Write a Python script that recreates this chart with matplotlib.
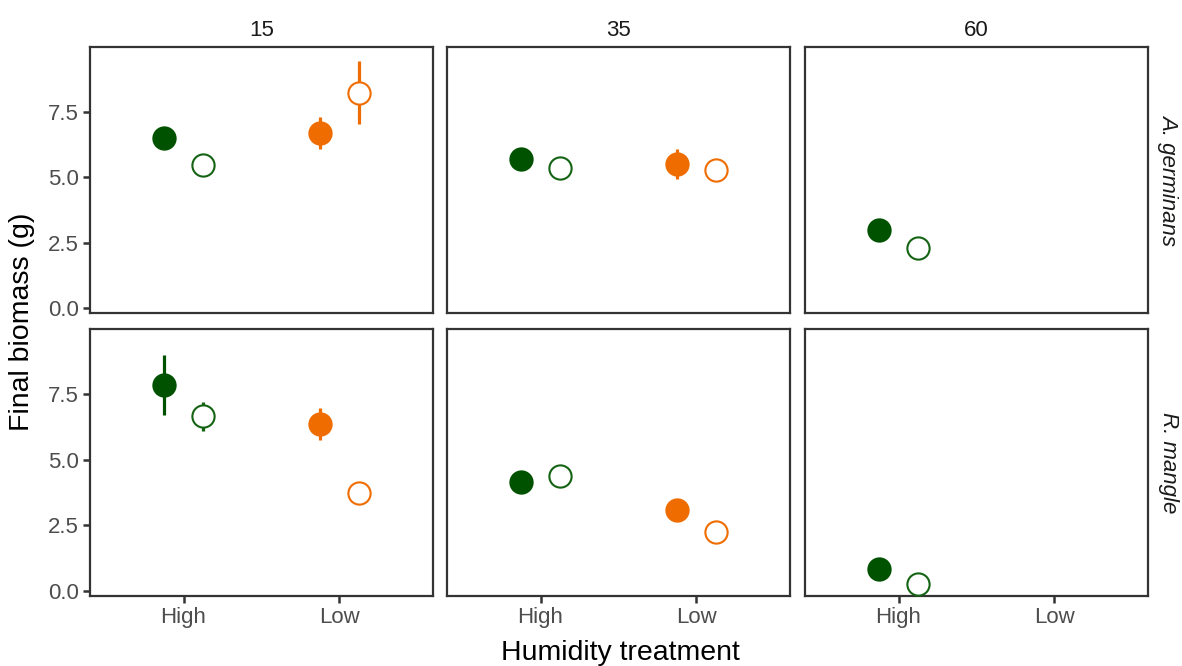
import numpy as np
import matplotlib.pyplot as plt

plt.rcParams["font.family"] = ["Liberation Sans", "DejaVu Sans"]

salinity = ["15", "35", "60"]
species = ["A. germinans", "R. mangle"]
humidity = ["High", "Low"]

# mean biomass per panel: [species][salinity] -> (high_filled, high_open, low_filled, low_open)
means = [
    [[6.52, 5.48, 6.70, 8.25], [5.70, 5.35, 5.50, 5.27], [3.00, 2.30, np.nan, np.nan]],
    [[7.85, 6.67, 6.38, 3.73], [4.15, 4.38, 3.08, 2.25], [0.85, 0.25, np.nan, np.nan]],
]
errs = [
    [[0.15, 0.10, 0.60, 1.22], [0.15, 0.10, 0.57, 0.10], [0.10, 0.10, np.nan, np.nan]],
    [[1.15, 0.55, 0.62, 0.10], [0.10, 0.10, 0.10, 0.10], [0.10, 0.10, np.nan, np.nan]],
]

green = "#005200"
green_open = "#136313"
orange = "#ef6c00"
W, H = 1182, 666
fig = plt.figure(figsize=(W / 100, H / 100), dpi=100)

col_x = [90, 447, 805]
row_y = [(47, 313), (329, 596)]
pw = 343
dodge = 0.125

for r in range(2):
    for c in range(3):
        top, bot = row_y[r]
        ax = fig.add_axes([col_x[c] / W, 1 - bot / H, pw / W, (bot - top) / H])
        m = means[r][c]
        e = errs[r][c]
        pts = [(1 - dodge, green, True), (1 + dodge, green_open, False),
               (2 - dodge, orange, True), (2 + dodge, orange, False)]
        for k, (x, col, filled) in enumerate(pts):
            if np.isnan(m[k]):
                continue
            ax.errorbar(x, m[k], yerr=e[k], fmt="none", ecolor=col, elinewidth=2.3,
                        capsize=0, zorder=2)
            ax.plot(x, m[k], "o", ms=16, mec=col, mew=1.5,
                    mfc=col if filled else "white", zorder=3)
        ax.set_xlim(0.4, 2.6)
        ax.set_ylim(-0.2, 10.0)
        ax.set_xticks([1, 2])
        ax.set_yticks([0, 2.5, 5, 7.5])
        for s in ax.spines.values():
            s.set_color("#333333")
            s.set_linewidth(1.6)
        ax.tick_params(colors="#333333", width=1.8, length=5, labelsize=16,
                       labelcolor="#4d4d4d", pad=3)
        if r == 1:
            ax.set_xticklabels(humidity)
        else:
            ax.tick_params(axis="x", bottom=False, labelbottom=False)
        if c == 0:
            ax.set_yticklabels(["0.0", "2.5", "5.0", "7.5"])
        else:
            ax.tick_params(axis="y", left=False, labelleft=False)
        if r == 0:
            ax.set_title(salinity[c], fontsize=16, color="#1a1a1a", pad=8)
        if c == 2:
            ax.text(1.03, 0.5, species[r], transform=ax.transAxes, rotation=-90,
                    ha="left", va="center", fontsize=16, style="italic",
                    color="#1a1a1a")

fig.text(22 / W, 1 - 322 / H, "Final biomass (g)", rotation=90, ha="center",
         va="center", fontsize=20.5)
fig.text(620 / W, 1 - 653 / H, "Humidity treatment", ha="center", va="center",
         fontsize=20.5)

fig.savefig("out.png", dpi=100, facecolor="white")
